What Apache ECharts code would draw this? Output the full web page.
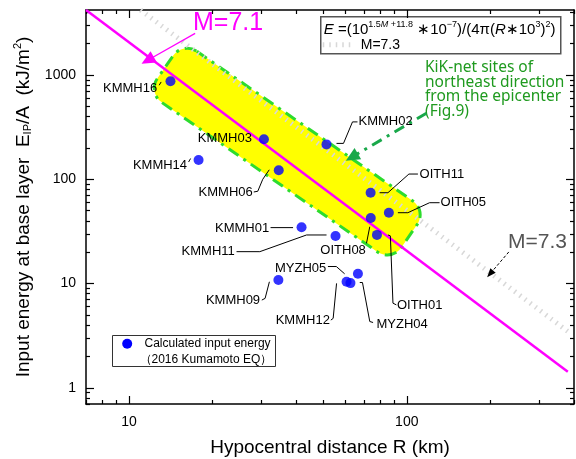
<!DOCTYPE html>
<html>
<head>
<meta charset="utf-8">
<script src="https://cdn.jsdelivr.net/npm/echarts@6/dist/echarts.min.js"></script>
<style>
  html, body { margin: 0; padding: 0; background: #fff; }
  #chart { width: 576px; height: 459px; }
</style>
</head>
<body>
<div id="chart"></div>
<script>
// station values
const stations = ['KMMH16', 'KMMH03', 'KMMH02', 'KMMH14', 'KMMH06', 'KMMH01', 'KMMH11',
  'OITH11', 'OITH05', 'OITH08', 'OITH01', 'MYZH05', 'KMMH09', 'KMMH12', 'MYZH04']
const distance = [14.1, 30.6, 51.4, 17.8, 34.6, 41.8, 55.4, 74.1, 86.2, 74.2, 78.1, 66.7, 34.5, 60.7, 62.7]
const energy = [871, 242, 216, 153, 122, 34.7, 28.6, 74.3, 47.8, 42.5, 29.3, 12.4, 10.8, 10.4, 10.1]

// attenuation lines (end points)
const lineM71 = [[7, 4200], [380, 1.425]]
const lineM73 = [[11, 4200], [390, 3.3]]

// highlighted band (centre line ends) and annotation arrows
const bandStart = [13.5, 1190]
const bandEnd = [102, 28.5]
const arrowM71 = [[17.3, 2506], [11.67, 1383]]
const arrowM73 = [[233, 20.1], [199.5, 12.4]]
const arrowKik = [[117.7, 430], [63.4, 163]]

// ticks
const xMajorTicks = [10, 100]
const xMinorTicks = [7, 8, 9, 20, 30, 40, 50, 60, 70, 80, 90, 200, 300, 400]
const yMajorTicks = [1, 10, 100, 1000]
const yMinorTicks = [0.7, 0.8, 0.9, 2, 3, 4, 5, 6, 7, 8, 9, 20, 30, 40, 50, 60, 70, 80, 90,
  200, 300, 400, 500, 600, 700, 800, 900, 2000, 3000, 4000]

// label placement relative to each dot (px)
const leaderLayout = {
  KMMH16: { label: [-13.3, 7.3], align: 'right', path: [[-11.3, 4], [-9.3, 0.7]] },
  KMMH03: { label: [-12, -0.5], align: 'right' },
  KMMH02: { label: [32, -22.5], align: 'left', path: [[10, -1], [17, -1], [26, -22.5], [31, -22.5]] },
  KMMH14: { label: [-11.5, 5], align: 'right', path: [[-10, 2], [-8, -1.5]] },
  KMMH06: { label: [-26, 21.7], align: 'right', path: [[-25, 21.7], [-21, 21], [-16, 9], [-9.5, -0.5]] },
  KMMH01: { label: [-32.4, 1], align: 'right', path: [[-31, 0.4], [-8.5, 0.4]] },
  KMMH11: { label: [-100.7, 15.7], align: 'right', path: [[-99, 15.7], [-75.7, 15.7], [-29, -1], [-9, -1]] },
  OITH11: { label: [49, -18.7], align: 'left', path: [[9, 0], [17.3, 0], [38.3, -18.7], [47.3, -18.7]] },
  OITH05: { label: [51.7, -10], align: 'left', path: [[9, 0], [19, 0], [40.7, -10], [50.7, -10]] },
  OITH08: { label: [-27.7, 32], align: 'center', path: [[-4.3, 25.3], [-1, 8.7]] },
  OITH01: { label: [20, 70.5], align: 'left', path: [[11, 0], [13.4, 1], [16, 68.3], [19.4, 70]] },
  MYZH05: { label: [-31.6, -5.7], align: 'right', path: [[-30, -7.3], [-21.6, -7.3], [-13.3, 0]] },
  KMMH09: { label: [-18.3, 20], align: 'right', path: [[-16.6, 20], [-13.3, 18.3], [-9, 1.7]] },
  KMMH12: { label: [-16.7, 38.3], align: 'right', path: [[-15.7, 38.3], [-13.4, 36.6], [-10, 1.6]] },
  MYZH04: { label: [26, 41.5], align: 'left', path: [[9.3, -0.6], [12, -0.6], [19.3, 38.4], [22.6, 39.4]] },
}

const FONT = '"Liberation Sans", Arial, sans-serif'
const grayDotted = { color: '#d8d8d8', width: 5, type: [1.5, 5] }

const chart = echarts.init(document.getElementById('chart'), null, { renderer: 'canvas' })

function logAxis(dim, pos, major, ticks, extra) {
  const range = dim === 'x' ? { min: 7, max: 400 } : { min: 0.7, max: 4200 }
  return Object.assign({
    type: 'log',
    logBase: 10,
    position: pos,
    ...range,
    axisLine: { show: major, onZero: false, lineStyle: { color: '#000', width: 1.5 } },
    axisTick: {
      show: true,
      inside: true,
      length: major ? 8 : 4,
      customValues: ticks,
      lineStyle: { color: '#000', width: 1.2 },
    },
    axisLabel: { show: false },
    splitLine: { show: false },
    minorTick: { show: false },
  }, extra || {})
}

function renderBand(params, api) {
  const p1 = api.coord([api.value(0), api.value(1)])
  const p2 = api.coord([api.value(2), api.value(3)])
  const len = Math.hypot(p2[0] - p1[0], p2[1] - p1[1])
  const ang = Math.atan2(p2[1] - p1[1], p2[0] - p1[0])
  const w = 62
  return {
    type: 'rect',
    x: (p1[0] + p2[0]) / 2,
    y: (p1[1] + p2[1]) / 2,
    rotation: -ang,
    shape: { x: -len / 2, y: -w / 2, width: len, height: w, r: 17 },
    style: { fill: '#ffff00', stroke: '#2ddc2d', lineWidth: 3, lineDash: [12, 6, 3, 6] },
  }
}

function renderLabel(params, api) {
  const p = api.coord([api.value(0), api.value(1)])
  const name = stations[params.dataIndex]
  const lay = leaderLayout[name]
  const children = []
  if (lay.path) {
    children.push({
      type: 'polyline',
      shape: { points: lay.path.map((o) => [p[0] + o[0], p[1] + o[1]]) },
      style: { stroke: '#000', lineWidth: 1, fill: null },
    })
  }
  children.push({
    type: 'text',
    x: p[0] + lay.label[0],
    y: p[1] + lay.label[1],
    style: {
      text: name, fill: '#000', font: '13px ' + FONT,
      align: lay.align, textAlign: lay.align, verticalAlign: 'middle', textVerticalAlign: 'middle',
    },
  })
  return { type: 'group', children }
}

const option = {
  animation: false,
  backgroundColor: '#fff',
  textStyle: { fontFamily: FONT },
  grid: { left: 86, right: 2, top: 10, bottom: 55, containLabel: false, outerBoundsMode: 'none' },
  xAxis: [
    logAxis('x', 'bottom', true, xMajorTicks, {
      axisLabel: { show: true, customValues: xMajorTicks, color: '#000', fontSize: 14, margin: 11, formatter: (v) => String(v) },
      name: 'Hypocentral distance R (km)',
      nameLocation: 'middle',
      nameGap: 34,
      nameTextStyle: { color: '#000', fontSize: 19 },
    }),
    logAxis('x', 'bottom', false, xMinorTicks),
    logAxis('x', 'top', true, xMajorTicks),
    logAxis('x', 'top', false, xMinorTicks),
  ],
  yAxis: [
    logAxis('y', 'left', true, yMajorTicks, {
      axisLabel: { show: true, customValues: yMajorTicks, color: '#000', fontSize: 14, margin: 10, formatter: (v) => String(v) },
      name: 'Input energy at base layer  E{sub|IP}/A  (kJ/m{sup|2})',
      nameLocation: 'middle',
      nameRotate: 90,
      nameGap: 48,
      nameTextStyle: {
        color: '#000', fontSize: 19,
        rich: {
          sub: { fontSize: 11, color: '#000', padding: [9, 0, 0, 0] },
          sup: { fontSize: 11, color: '#000', padding: [0, 0, 12, 0] },
        },
      },
    }),
    logAxis('y', 'left', false, yMinorTicks),
    logAxis('y', 'right', true, yMajorTicks),
    logAxis('y', 'right', false, yMinorTicks),
  ],
  series: [
    {
      type: 'custom',
      name: 'band',
      renderItem: renderBand,
      data: [[bandStart[0], bandStart[1], bandEnd[0], bandEnd[1]]],
      encode: { x: [0, 2], y: [1, 3] },
      z: 1,
      silent: true,
    },
    {
      type: 'line',
      name: 'M=7.3',
      data: lineM73,
      showSymbol: false,
      symbol: 'none',
      lineStyle: grayDotted,
      z: 2,
      markLine: {
        silent: true,
        symbol: ['none', 'triangle'],
        symbolSize: [7, 9],
        label: { show: false },
        lineStyle: { color: '#000', width: 1, type: [3, 2] },
        data: [[{ coord: arrowM73[0] }, { coord: arrowM73[1] }]],
      },
    },
    {
      type: 'line',
      name: 'M=7.1',
      data: lineM71,
      showSymbol: false,
      symbol: 'none',
      lineStyle: { color: '#ff00ff', width: 2.5 },
      z: 3,
      markLine: {
        silent: true,
        symbol: ['none', 'triangle'],
        symbolSize: [13, 14],
        label: { show: false },
        lineStyle: { color: '#ff00ff', width: 1.2, type: 'solid' },
        data: [[{ coord: arrowM71[0] }, { coord: arrowM71[1] }]],
      },
    },
    {
      type: 'line',
      name: 'kik',
      data: [],
      markLine: {
        silent: true,
        symbol: ['none', 'triangle'],
        symbolSize: [13, 14],
        label: { show: false },
        lineStyle: { color: '#19a84a', width: 3, type: [11, 6, 3, 6] },
        data: [[{ coord: arrowKik[0] }, { coord: arrowKik[1] }]],
      },
    },
    {
      type: 'scatter',
      name: 'Calculated input energy',
      data: distance.map((d, i) => [d, energy[i]]),
      symbol: 'circle',
      symbolSize: 10,
      itemStyle: { color: '#0000ff' },
      z: 5,
    },
    {
      type: 'custom',
      name: 'labels',
      renderItem: renderLabel,
      data: distance.map((d, i) => [d, energy[i]]),
      z: 6,
      silent: true,
    },
  ],
  graphic: [
    // formula box
    {
      type: 'group',
      left: 320, top: 16,
      children: [
        { type: 'rect', shape: { x: 0, y: 0, width: 240, height: 37 }, style: { fill: '#fff', stroke: '#555', lineWidth: 1.5 } },
        {
          type: 'text', x: 3, y: 13,
          style: {
            text: '{i|E} =(10{s|1.5}{si|M}{s| +11.8} \u221710{s|\u22127})/(4\u03c0({i|R}\u221710{s|3}){s|2})',
            font: '15px ' + FONT, fill: '#000', verticalAlign: 'middle', textVerticalAlign: 'middle',
            rich: {
              i: { fontStyle: 'italic', fontSize: 15, fontFamily: FONT },
              s: { fontSize: 9, fontFamily: FONT, padding: [0, 0, 10, 0] },
              si: { fontSize: 9, fontStyle: 'italic', fontFamily: FONT, padding: [0, 0, 10, 0] },
            },
          },
        },
        { type: 'line', shape: { x1: 2, y1: 28, x2: 30, y2: 28 }, style: { stroke: '#d8d8d8', lineWidth: 5, lineDash: [1.5, 5] } },
        { type: 'text', x: 40, y: 28, style: { text: 'M=7.3', font: '14px ' + FONT, fill: '#000', verticalAlign: 'middle', textVerticalAlign: 'middle' } },
      ],
    },
    // legend box
    {
      type: 'group',
      left: 112, top: 335,
      children: [
        { type: 'rect', shape: { x: 0, y: 0, width: 163, height: 31 }, style: { fill: '#fff', stroke: '#333', lineWidth: 1 } },
        { type: 'circle', shape: { cx: 14.7, cy: 8.3, r: 5 }, style: { fill: '#0000ff' } },
        { type: 'text', x: 32, y: 8.5, style: { text: 'Calculated input energy', font: '12px ' + FONT, fill: '#000', verticalAlign: 'middle', textVerticalAlign: 'middle' } },
        { type: 'text', x: 27, y: 24, style: { text: '\uff082016 Kumamoto EQ\uff09', font: '12px ' + FONT, fill: '#000', verticalAlign: 'middle', textVerticalAlign: 'middle' } },
      ],
    },
    {
      type: 'text', left: 193, top: 11,
      style: { text: 'M=7.1', font: '25px ' + FONT, fill: '#ff00ff' },
    },
    {
      type: 'text', left: 508, top: 232,
      style: { text: 'M=7.3', font: '21px ' + FONT, fill: '#555' },
    },
    {
      type: 'text', left: 425, top: 60,
      style: {
        text: 'KiK-net sites of\nnortheast direction\nfrom the epicenter\n(Fig.9)',
        font: '15.5px "Noto Sans", sans-serif', lineHeight: 14.5, fill: '#1f9a1f',
      },
    },
  ],
}

chart.setOption(option)
</script>
</body>
</html>
